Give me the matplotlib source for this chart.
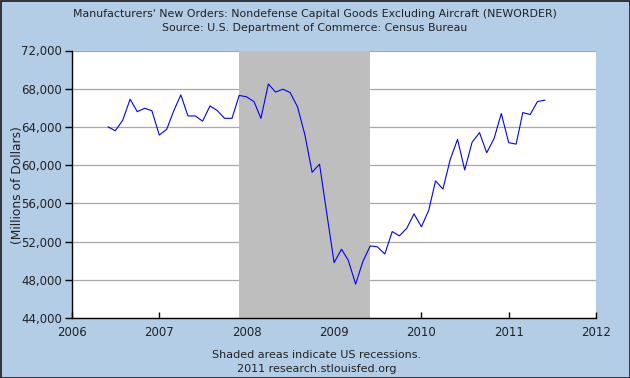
import matplotlib
matplotlib.use('Agg')
import matplotlib.pyplot as plt
import matplotlib.patches as mpatches
import pandas as pd

# Monthly new orders, millions of dollars (Jun 2006 - Jun 2011)
start_month = '2006-06-01'
orders = [
    64000, 63600, 64700, 66900, 65600, 65950, 65700,
    63150, 63750, 65600, 67350, 65150, 65150, 64600, 66200, 65700, 64900, 64900, 67300,
    67150, 66650, 64900, 68500, 67650, 67950, 67600, 66100, 63150, 59250, 60100, 55000,
    49800, 51200, 50050, 47550, 49900, 51550, 51450, 50700, 53050, 52600, 53400, 54900,
    53550, 55300, 58350, 57500, 60550, 62700, 59500, 62400, 63400, 61300, 62800, 65400,
    62350, 62200, 65500, 65300, 66650, 66800,
]
recession = ('2007-12-01', '2009-06-01')
y_ticks = list(range(44000, 72001, 4000))
x_years = list(range(2006, 2013))

BG = '#b4cde6'

dates = pd.date_range(start_month, periods=len(orders), freq='MS')

fig = plt.figure(figsize=(6.3, 3.78), dpi=100, facecolor=BG)
ax = fig.add_axes([72 / 630, 1 - 318 / 378, (596 - 72) / 630, (318 - 50.5) / 378])
ax.set_facecolor('white')

ax.axvspan(pd.Timestamp(recession[0]), pd.Timestamp(recession[1]),
           color='#bebebe', zorder=1, linewidth=0)
ax.plot(dates, orders, color='#0000ff', linewidth=0.8, zorder=3)

ax.set_xlim(pd.Timestamp('2006-01-01'), pd.Timestamp('2012-01-01'))
ax.set_ylim(y_ticks[0], y_ticks[-1])
ax.set_yticks(y_ticks)
ax.set_yticklabels([f'{v:,}' for v in y_ticks])
ax.set_xticks([pd.Timestamp(f'{y}-01-01') for y in x_years])
ax.set_xticklabels([str(y) for y in x_years])

ax.grid(axis='y', color='#a8a8a8', linewidth=0.9, zorder=0)
ax.set_axisbelow(True)
for side in ('top', 'right'):
    ax.spines[side].set_visible(False)
for side in ('left', 'bottom'):
    ax.spines[side].set_color('black')
    ax.spines[side].set_linewidth(1.0)

ax.tick_params(axis='y', direction='out', length=5, width=1, labelsize=8.5,
               colors='black', labelcolor='#222222', pad=2)
ax.tick_params(axis='x', direction='in', length=4, width=1, labelsize=8.5,
               colors='black', labelcolor='#222222', pad=6)

fig.text(0.5, 1 - 14 / 378, "Manufacturers' New Orders: Nondefense Capital Goods Excluding Aircraft (NEWORDER)",
         ha='center', va='center', fontsize=7.9, color='#222222')
fig.text(0.5, 1 - 28 / 378, "Source: U.S. Department of Commerce: Census Bureau",
         ha='center', va='center', fontsize=7.9, color='#222222')
fig.text(18 / 630, 1 - 185 / 378, "(Millions of Dollars)", rotation=90,
         ha='center', va='center', fontsize=8.8, color='#222222')
fig.text(317 / 630, 1 - 355 / 378, "Shaded areas indicate US recessions.",
         ha='center', va='center', fontsize=8, color='#222222')
fig.text(317 / 630, 1 - 369 / 378, "2011 research.stlouisfed.org",
         ha='center', va='center', fontsize=8, color='#222222')

# outer frame
fig.patches.append(mpatches.Rectangle((0.5 / 630, 0.5 / 378), 629 / 630, 377 / 378,
                                      transform=fig.transFigure, fill=False,
                                      edgecolor='#1a1a1a', linewidth=1.2))

fig.savefig('out.png', dpi=100, facecolor=BG)
